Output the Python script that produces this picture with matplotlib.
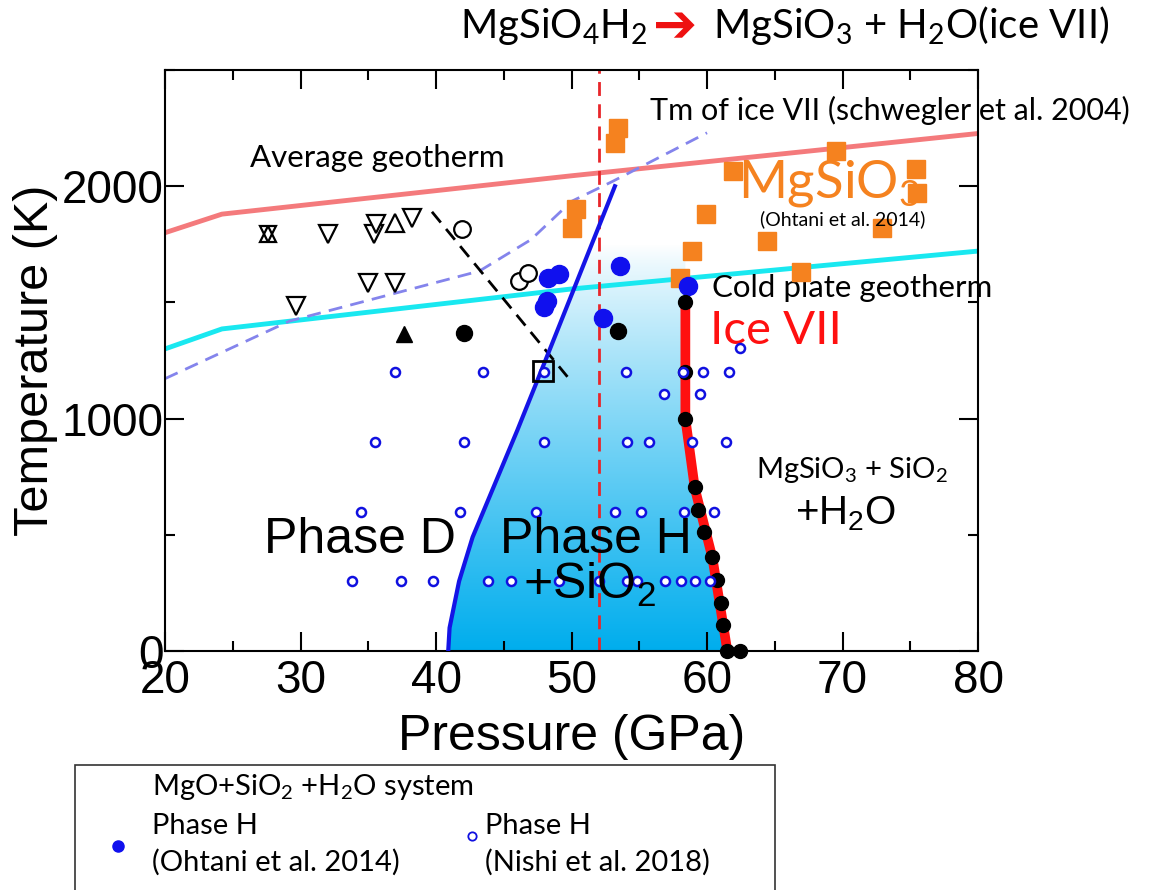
import numpy as np
import matplotlib
matplotlib.use("Agg")
import matplotlib.pyplot as plt
from matplotlib.patches import Polygon, Rectangle
from matplotlib.ticker import MultipleLocator

plt.rcParams['mathtext.default'] = 'regular'

# ---- data (pressure in GPa, temperature in K) ----
avg_P = [20, 24.2, 50, 80]
avg_T = [1800, 1880, 2045, 2227]
cold_P = [20, 24.2, 50, 80]
cold_T = [1300, 1386, 1558, 1721]
tm_P = [20, 29.2, 43.2, 47, 50, 53, 60]
tm_T = [1172, 1420, 1635, 1770, 1935, 2020, 2230]
dash_P = [39.7, 49.7]
dash_T = [1890, 1180]
bound_P = [40.9, 41.0, 41.7, 42.7, 46.0, 48.0, 53.2]
bound_T = [0, 100, 300, 490, 950, 1240, 2000]
ice_P = [58.4, 58.4, 59.1, 60.4, 61.5]
ice_T = [1500, 1000, 700, 400, 0]
ice_pts_P = [58.4, 58.4, 58.4, 59.1, 59.3, 59.8, 60.4, 60.7, 61.0, 61.2, 61.5, 62.4]
ice_pts_T = [1500, 1200, 1000, 704, 605, 511, 403, 305, 206, 112, 0, 0]
big_black_P = [42.1, 53.4]
big_black_T = [1370, 1378]
tri_fill_P = [37.6]
tri_fill_T = [1365]
ohtani_P = [48.3, 49.1, 48.2, 48.0, 53.6, 52.3, 58.6]
ohtani_T = [1605, 1622, 1506, 1480, 1657, 1433, 1571]
open_circ_P = [41.9, 46.1, 46.8]
open_circ_T = [1816, 1592, 1627]
tri_down_P = [29.7, 32.0, 35.0, 35.4, 35.6, 37.0, 38.2]
tri_down_T = [1485, 1794, 1584, 1794, 1837, 1584, 1863]
tri_up_P = [37.0]
tri_up_T = [1841]
star_P = [27.6]
star_T = [1794]
square_P = [47.9]
square_T = [1205]
mgsio3_P = [53.4, 53.2, 50.3, 50.0, 61.9, 59.9, 58.9, 58.0, 64.4, 66.9, 69.5, 72.9, 75.4, 75.5]
mgsio3_T = [2249, 2185, 1901, 1820, 2064, 1880, 1721, 1605, 1764, 1631, 2150, 1820, 2073, 1970]
nishi_P = [37.0, 43.5, 48.0, 54.0, 58.2, 59.7, 61.6,
           56.8, 59.5, 62.4,
           35.5, 42.1, 48.0, 54.1, 55.7, 58.9, 61.4,
           34.5, 41.8, 47.4, 53.2, 55.1, 58.3, 60.5,
           33.8, 37.4, 39.8, 43.8, 45.5, 49.1, 52.0, 54.1, 54.8, 56.9, 58.1, 59.1, 60.2]
nishi_T = [1200] * 7 + [1107, 1107, 1305] + [900] * 7 + [600] * 7 + [300] * 13
boundary_P = 52.0
shade_top = 1750

ARIAL = 'Liberation Sans'
CALIBRI = ['Lato', 'DejaVu Sans']

fig = plt.figure(figsize=(11.58, 8.9), dpi=100)
ax = fig.add_axes([0.1425, 0.2685, 0.7021, 0.6528])

# shaded Phase H + SiO2 field (white -> blue gradient clipped to the field)
n = 300
f = (1 - np.linspace(0, 1, n)) ** 0.85
top_col = np.array([1.0, 1.0, 1.0])
bot_col = np.array([0.0, 0.68, 0.93])
img = (top_col[None, :] * (1 - f[:, None]) + bot_col[None, :] * f[:, None])
img = np.repeat(img[:, None, :], 2, axis=1)
im = ax.imshow(img, extent=[40, 63, 0, shade_top], origin='lower',
               aspect='auto', zorder=0)
bp = np.array(bound_P); bt = np.array(bound_T)
left_top = np.interp(shade_top, bt, bp)
verts = [(p, t) for p, t in zip(bp, bt) if t < shade_top] + [(left_top, shade_top), (ice_P[0], shade_top)]
verts += list(zip(ice_P, ice_T))
poly = Polygon(verts, closed=True, facecolor='none', edgecolor='none')
ax.add_patch(poly)
im.set_clip_path(poly)

# lines
ax.plot(avg_P, avg_T, color='#f47a7c', lw=3.5, zorder=2)
ax.plot(cold_P, cold_T, color='#19e8f0', lw=3.5, zorder=2)
ax.plot(tm_P, tm_T, color='#8484ec', lw=2, dashes=(5, 3), zorder=2)
ax.plot(dash_P, dash_T, color='black', lw=2, dashes=(5, 3), zorder=2)
ax.axvline(boundary_P, color='#e8262a', lw=2, dashes=(5, 3), zorder=2)
ax.plot(bound_P, bound_T, color='#1414e6', lw=3, zorder=3)
ax.plot(ice_P, ice_T, color='#ff1010', lw=7, solid_capstyle='butt', zorder=3)

# markers
ax.plot(mgsio3_P, mgsio3_T, 's', color='#f5821f', ms=13, zorder=4)
ax.plot(nishi_P, nishi_T, 'o', mfc='white', mec='#1010e0', ms=6.5, mew=1.8, zorder=6)
ax.plot(square_P, square_T, 's', mfc='none', mec='black', ms=14, mew=2, zorder=5)
ax.plot(ohtani_P, ohtani_T, 'o', color='#1010ee', ms=13, zorder=5)
ax.plot(ice_pts_P, ice_pts_T, 'o', color='black', ms=10, zorder=5, clip_on=False)
ax.plot(big_black_P, big_black_T, 'o', color='black', ms=11.5, zorder=5)
ax.plot(tri_fill_P, tri_fill_T, '^', color='black', ms=12, zorder=5)
ax.plot(open_circ_P, open_circ_T, 'o', mfc='white', mec='black', ms=12, mew=1.6, zorder=5)
ax.plot(tri_down_P, tri_down_T, 'v', mfc='white', mec='black', ms=13, mew=1.6, zorder=5)
ax.plot(tri_up_P, tri_up_T, '^', mfc='white', mec='black', ms=13, mew=1.6, zorder=5)
ax.plot(star_P, star_T, '^', mfc='none', mec='black', ms=12, mew=1.6, zorder=5)
ax.plot(star_P, star_T, 'v', mfc='none', mec='black', ms=12, mew=1.6, zorder=5)

# axes styling
ax.set_xlim(20, 80)
ax.set_ylim(0, 2500)
ax.set_xticks(range(20, 81, 10))
ax.set_yticks([0, 1000, 2000])
ax.xaxis.set_minor_locator(MultipleLocator(5))
ax.yaxis.set_minor_locator(MultipleLocator(500))
ax.tick_params(which='both', direction='in', top=True, right=True, width=1.5)
ax.tick_params(which='major', length=14)
ax.tick_params(which='minor', length=7)
ax.tick_params(axis='x', pad=6)
ax.tick_params(axis='y', pad=1)
for lab in ax.get_xticklabels() + ax.get_yticklabels():
    lab.set_fontfamily(ARIAL)
    lab.set_fontsize(33)
for s in ax.spines.values():
    s.set_linewidth(1.5)
ax.set_xlabel('Pressure (GPa)', fontsize=36, family=ARIAL, labelpad=8)
ax.set_ylabel('Temperature (K)', fontsize=35, family=ARIAL)
ax.yaxis.set_label_coords(-0.132, 0.5)

# annotations
ax.text(26.3, 2122, 'Average geotherm', fontsize=22.5, family=CALIBRI, va='center')
ax.text(55.8, 2328, 'Tm of ice VII (schwegler et al. 2004)', fontsize=22, family=CALIBRI, va='center')
ax.text(62.3, 2010, 'MgSiO$_3$', fontsize=38, family=CALIBRI, color='#f5821f', va='center')
ax.text(63.9, 1858, '(Ohtani et al. 2014)', fontsize=14, family=CALIBRI, va='center', zorder=6)
ax.text(60.4, 1562, 'Cold plate geotherm', fontsize=22.5, family=CALIBRI, va='center')
ax.text(60.2, 1375, 'Ice VII', fontsize=34, family=CALIBRI, color='#ff1010', va='center')
ax.text(34.4, 476, 'Phase D', fontsize=36, family=ARIAL, ha='center', va='center', zorder=7)
ax.text(51.8, 476, 'Phase H', fontsize=36, family=ARIAL, ha='center', va='center', zorder=7)
ax.text(51.3, 285, '+SiO$_2$', fontsize=36, family=ARIAL, ha='center', va='center', zorder=7)
ax.text(70.7, 780, 'MgSiO$_3$ + SiO$_2$', fontsize=21, family=CALIBRI, ha='center', va='center')
ax.text(70.2, 590, '+H$_2$O', fontsize=29, family=ARIAL, ha='center', va='center')

# title line above the axes
fig.text(0.3972, 0.957, 'MgSiO$_4$H$_2$', fontsize=29, family=CALIBRI, va='baseline')
fig.text(0.5640, 0.952, '\u2794', fontsize=38, family='DejaVu Sans', fontweight='bold',
         color='#ee1111', va='baseline')
fig.text(0.6157, 0.957, 'MgSiO$_3$ + H$_2$O(ice VII)', fontsize=29, family=CALIBRI, va='baseline')

# legend box at the bottom
fig.add_artist(Rectangle((0.0648, -0.01), 0.6045, 0.1504, transform=fig.transFigure,
                         facecolor='white', edgecolor='#333333', lw=1.2))
fig.text(0.1313, 0.1157, 'MgO+SiO$_2$ +H$_2$O system', fontsize=21, family=CALIBRI, va='center')
fig.text(0.1313, 0.072, 'Phase H', fontsize=21, family=CALIBRI, va='center')
fig.text(0.1313, 0.0315, '(Ohtani et al. 2014)', fontsize=21, family=CALIBRI, va='center')
fig.text(0.4188, 0.072, 'Phase H', fontsize=21, family=CALIBRI, va='center')
fig.text(0.4188, 0.0315, '(Nishi et al. 2018)', fontsize=21, family=CALIBRI, va='center')
fig.lines.append(plt.Line2D([0.1019], [0.0494], transform=fig.transFigure, marker='o',
                            color='#1010ee', ms=8, ls='none'))
fig.lines.append(plt.Line2D([0.4076], [0.0607], transform=fig.transFigure, marker='o',
                            mfc='white', mec='#1010e0', ms=6, mew=1.3, ls='none'))

fig.savefig('out.png', dpi=100)
